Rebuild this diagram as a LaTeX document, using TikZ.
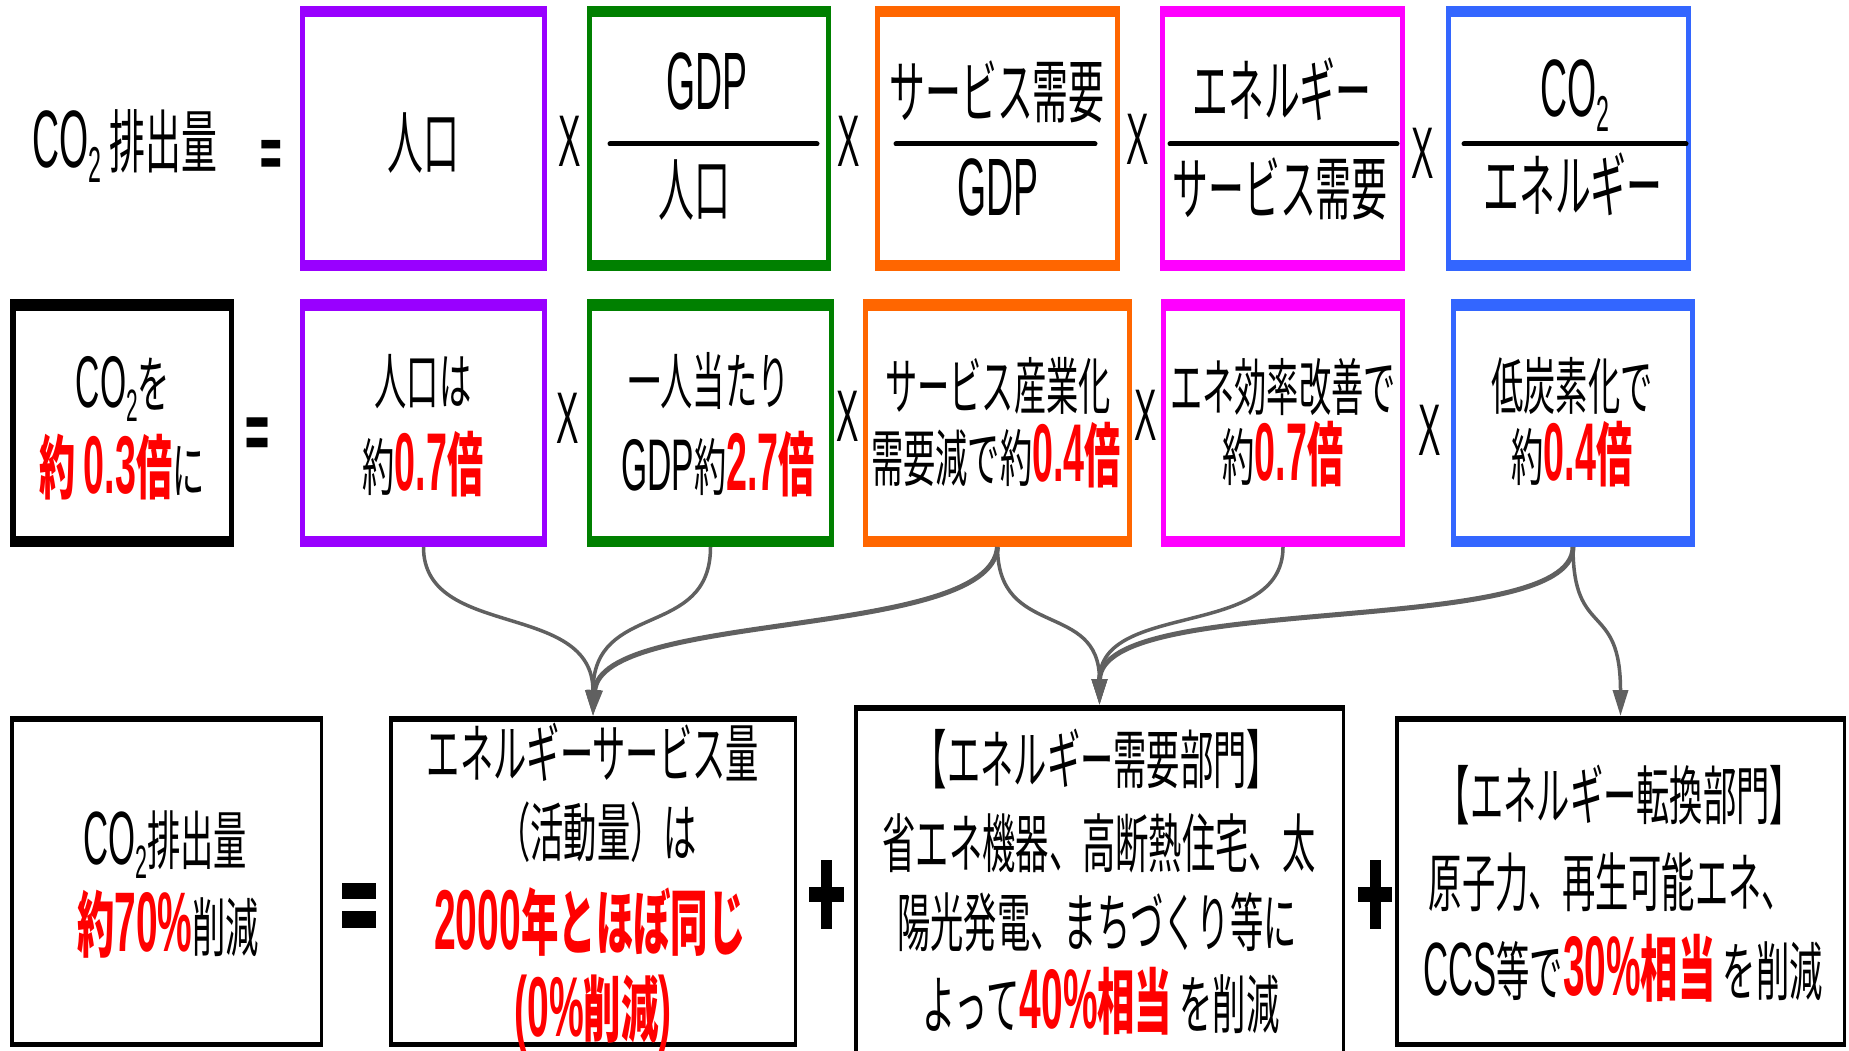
\documentclass[tikz,border=0pt]{standalone}
\usepackage{fontspec}
\newfontfamily\jp[FakeStretch=0.52]{Noto Sans CJK JP}
\newfontfamily\lat[FakeStretch=0.46,Scale=1.18]{Liberation Sans}
\usetikzlibrary{arrows.meta,calc}
\definecolor{cpur}{HTML}{9900FF}
\definecolor{cgrn}{HTML}{008000}
\definecolor{corg}{HTML}{FF6600}
\definecolor{cmag}{HTML}{FF00FF}
\definecolor{cblu}{HTML}{3366FF}
\definecolor{cred}{HTML}{FF0000}
\definecolor{cgray}{HTML}{606060}
\newcommand\la[1]{{\lat #1}}
\newcommand\lowtwo{\raisebox{-0.22em}{\scalebox{0.62}{\lat 2}}}
\newcommand\redb[1]{\scalebox{1.12}{\bfseries\color{cred}#1}}
\newcommand\redn[1]{{\bfseries\color{cred}#1}}
\newcommand\cbox[8]{%
  \pgfmathsetmacro\bxcx{(#3+#5)/2}%
  \pgfmathsetmacro\bxcy{(#4+#6)/2}%
  \pgfmathsetmacro\bxw{#5-#3}%
  \pgfmathsetmacro\bxh{#6-#4}%
  \pgfmathsetmacro\bxiw{#5-#3-2*#7}%
  \pgfmathsetmacro\bxih{#6-#4-2*#8}%
  \node[fill=#2,inner sep=0,outer sep=0,minimum width=\bxw pt,minimum height=\bxh pt] (#1) at (\bxcx,\bxcy) {};
  \node[fill=white,inner sep=0,outer sep=0,minimum width=\bxiw pt,minimum height=\bxih pt] (#1in) at (#1.center) {};
}
\tikzset{
  ta/.style={font=\jp\fontsize{69}{70}\selectfont, inner sep=0, text height=58pt, text depth=5pt},
  tb/.style={font=\jp\fontsize{62}{64}\selectfont, inner sep=0, text height=52pt, text depth=4.5pt},
  tc/.style={font=\jp\fontsize{64}{66}\selectfont, inner sep=0, text height=54pt, text depth=5pt},
  td/.style={font=\jp\fontsize{72}{74}\selectfont, inner sep=0, text height=60pt, text depth=5pt},
  tx/.style={font=\lat\fontsize{62}{64}\selectfont, inner sep=0, text height=52pt, text depth=0pt},
  conn/.style={draw=cgray, line width=3.5pt, -{Triangle[length=26pt,width=15pt]}},
  connw/.style={conn, line width=5pt},
  fracbar/.style={line width=5pt, line cap=round},
}
\begin{document}
\begin{tikzpicture}[x=1pt,y=-1pt]
\useasboundingbox (0,0) rectangle (1849,1051);
\fill[white] (0,0) rectangle (1849,1051);

% ---------- Row 1 ----------
\node[ta] (lhs1) at (125,141) {\la{CO}\lowtwo\ 排出量};
\node[ta,font=\jp\bfseries\fontsize{68}{70}\selectfont] (eq1) at (271,153) {=};

\cbox{b11}{cpur}{300}{6}{547}{271}{5}{11.5}
\cbox{b12}{cgrn}{587}{6}{831}{271}{5}{11.5}
\cbox{b13}{corg}{875}{6}{1120}{271}{5}{11.5}
\cbox{b14}{cmag}{1160}{6}{1405}{271}{5}{11.5}
\cbox{b15}{cblu}{1446}{6}{1691}{271}{5}{11.5}

\node[ta] (t11) at (423,142) {人口};
\node[tx] (x11) at (570,141) {X};
\node[ta] (t12a) at (707,83) {\la{GDP}};
\draw[fracbar] (610,144) -- (817,144);
\node[ta] (t12b) at (694,189) {人口};
\node[tx] (x12) at (849,141) {X};
\node[ta] (t13a) at (997,91) {サービス需要};
\draw[fracbar] (896,144) -- (1095,144);
\node[ta] (t13b) at (998,189) {\la{GDP}};
\node[tx] (x13) at (1138,139) {X};
\node[ta] (t14a) at (1282,90) {エネルギー};
\draw[fracbar] (1170,144) -- (1397,144);
\node[ta] (t14b) at (1280,188) {サービス需要};
\node[tx] (x14) at (1423,153) {X};
\node[ta] (t15a) at (1575,90) {\la{CO}\lowtwo};
\draw[fracbar] (1464,144) -- (1686,144);
\node[ta] (t15b) at (1573,185) {エネルギー};

% ---------- Row 2 ----------
\cbox{b20}{black}{10}{299}{234}{547}{5.5}{11.5}
\cbox{b21}{cpur}{300}{299}{547}{547}{5}{11.5}
\cbox{b22}{cgrn}{587}{299}{834}{547}{5}{11.5}
\cbox{b23}{corg}{863}{299}{1132}{547}{5}{11.5}
\cbox{b24}{cmag}{1161}{299}{1405}{547}{5}{11.5}
\cbox{b25}{cblu}{1451}{299}{1695}{547}{5}{11.5}

\node[tb] (t20a) at (123,384) {\la{CO}\lowtwo を};
\node[tb] (t20b) at (122,470) {\redb{約 \la{0.3}倍}に};
\node[tb,font=\jp\bfseries\fontsize{76}{78}\selectfont] (eq2) at (258,438) {=};
\node[tb] (t21a) at (423,381) {人口は};
\node[tb] (t21b) at (423,467) {約\redb{\la{0.7}倍}};
\node[tx] (x21) at (568,417) {X};
\node[tb] (t22a) at (709,381) {一人当たり};
\node[tb] (t22b) at (718,467) {\la{GDP}約\redb{\la{2.7}倍}};
\node[tx] (x22) at (848,415) {X};
\node[tb] (t23a) at (998,386) {サービス産業化};
\node[tb] (t23b) at (996,458) {需要減で約\redb{\la{0.4}倍}};
\node[tx] (x23) at (1146,414) {X};
\node[tb] (t24a) at (1283,387) {エネ効率改善で};
\node[tb] (t24b) at (1283,457) {約\redb{\la{0.7}倍}};
\node[tx] (x24) at (1430,429) {X};
\node[tb] (t25a) at (1572,386) {低炭素化で};
\node[tb] (t25b) at (1572,457) {約\redb{\la{0.4}倍}};

% ---------- Row 3 ----------
\cbox{b31}{black}{10}{716}{323}{1047}{3.5}{5.5}
\cbox{b32}{black}{389}{716}{797}{1047}{3.5}{5.5}
\cbox{b33}{black}{854}{705}{1345}{1075}{3.5}{5.5}
\cbox{b34}{black}{1395}{716}{1846}{1047}{3.5}{5.5}

\fill (342,883) rectangle (376,899);
\fill (342,911) rectangle (376,928);
\fill (809,887) rectangle (844,902);
\fill (821,860) rectangle (832,929);
\fill (1358,887) rectangle (1392,902);
\fill (1370,860) rectangle (1381,929);

\node[tc] (t31a) at (165,840) {\la{CO}\lowtwo 排出量};
\node[tc] (t31b) at (168,927) {\redb{約\la{70\%}}削減};

\node[tc] (t32a) at (593,753) {エネルギーサービス量};
\node[tc] (t32b) at (597,832) {（活動量）は};
\node[td] (t32c) at (590,922) {\redn{\la{2000}年とほぼ同じ}};
\node[td] (t32d) at (593,1009) {\redn{\la{(0\%}削減\la{)}}};

\node[tc] (t33a) at (1097,759) {【エネルギー需要部門】};
\node[tc] (t33b) at (1099,843) {省エネ機器、高断熱住宅、太};
\node[tc] (t33c) at (1097,922) {陽光発電、まちづくり等に};
\node[tc] (t33d) at (1101,1004) {よって\redb{\la{40\%}相当} を削減};

\node[tc] (t34a) at (1620,795) {【エネルギー転換部門】};
\node[tc] (t34b) at (1612,882) {原子力、再生可能エネ、};
\node[tc] (t34c) at (1623,971) {\la{CCS}等で\redb{\la{30\%}相当} を削減};

% ---------- Connectors ----------
\draw[conn] (b21.south) .. controls ($(b21.south)+(0,93)$) and ($(b32.north)+(0,-116)$) .. (b32.north);
\draw[conn] (b22.south) .. controls ($(b22.south)+(0,93)$) and ($(b32.north)+(0,-116)$) .. (b32.north);
\draw[connw] (b23.south) .. controls ($(b23.south)+(-7,93)$) and ($(b32.north)+(7,-106)$) .. (b32.north);
\draw[conn] (b23.south) .. controls ($(b23.south)+(0,93)$) and ($(b33.north)+(0,-105)$) .. (b33.north);
\draw[conn] (b24.south) .. controls ($(b24.south)+(0,93)$) and ($(b33.north)+(0,-105)$) .. (b33.north);
\draw[connw] (b25.south) .. controls ($(b25.south)+(0,93)$) and ($(b33.north)+(0,-115)$) .. (b33.north);
\draw[conn] (b25.south) .. controls ($(b25.south)+(0,93)$) and ($(b34.north)+(0,-116)$) .. (b34.north);
\end{tikzpicture}
\end{document}
